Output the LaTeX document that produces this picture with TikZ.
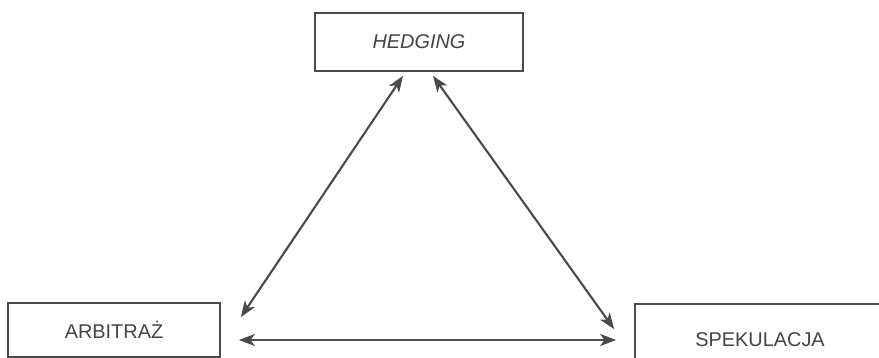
\documentclass[tikz,border=0pt]{standalone}
\usepackage{fontspec}
\setmainfont{Liberation Sans}
\usetikzlibrary{arrows.meta}
\definecolor{ink}{HTML}{4A4A4A}
\definecolor{txt}{HTML}{444444}

\begin{document}
\begin{tikzpicture}[
    font=\fontsize{17}{20}\selectfont,
    box/.style={draw=ink, line width=1.5pt, fill=white, text=txt,
                minimum width=6.3cm, minimum height=1.7cm, inner sep=0pt},
    link/.style={{Stealth[length=4.8mm, width=3.6mm, inset=1.3mm]}-{Stealth[length=4.8mm, width=3.6mm, inset=1.3mm]},
                 ink, line width=1.8pt},
]
\clip (0,0) rectangle (26.37,10.74);
\fill[white] (0,0) rectangle (26.37,10.74);

% ---- boxes ----
\node[box, minimum width=6.24cm, minimum height=1.74cm] (hedge) at (12.57,9.48) {\itshape HEDGING};
\node[box, minimum width=6.36cm, minimum height=1.62cm] (arb) at (3.42,0.84) {ARBITRAŻ};
\node[box, minimum width=7.5cm, minimum height=2.16cm] (spek) at (22.8,0.54) {SPEKULACJA};

% ---- links ----
\coordinate (hl) at ([shift={(-0.48,-0.12)}]hedge.south);
\coordinate (hr) at ([shift={(0.42,-0.12)}]hedge.south);
\coordinate (au) at ([shift={(0.6,-0.45)}]arb.north east);
\coordinate (ar) at ([shift={(0.54,-0.3)}]arb.east);
\coordinate (su) at ([shift={(-0.6,-0.78)}]spek.north west);
\coordinate (sl) at ([shift={(-0.54,0)}]spek.west);
\draw[link] (au) -- (hl);
\draw[link] (hr) -- (su);
\draw[link] (ar) -- (sl);
\end{tikzpicture}
\end{document}
